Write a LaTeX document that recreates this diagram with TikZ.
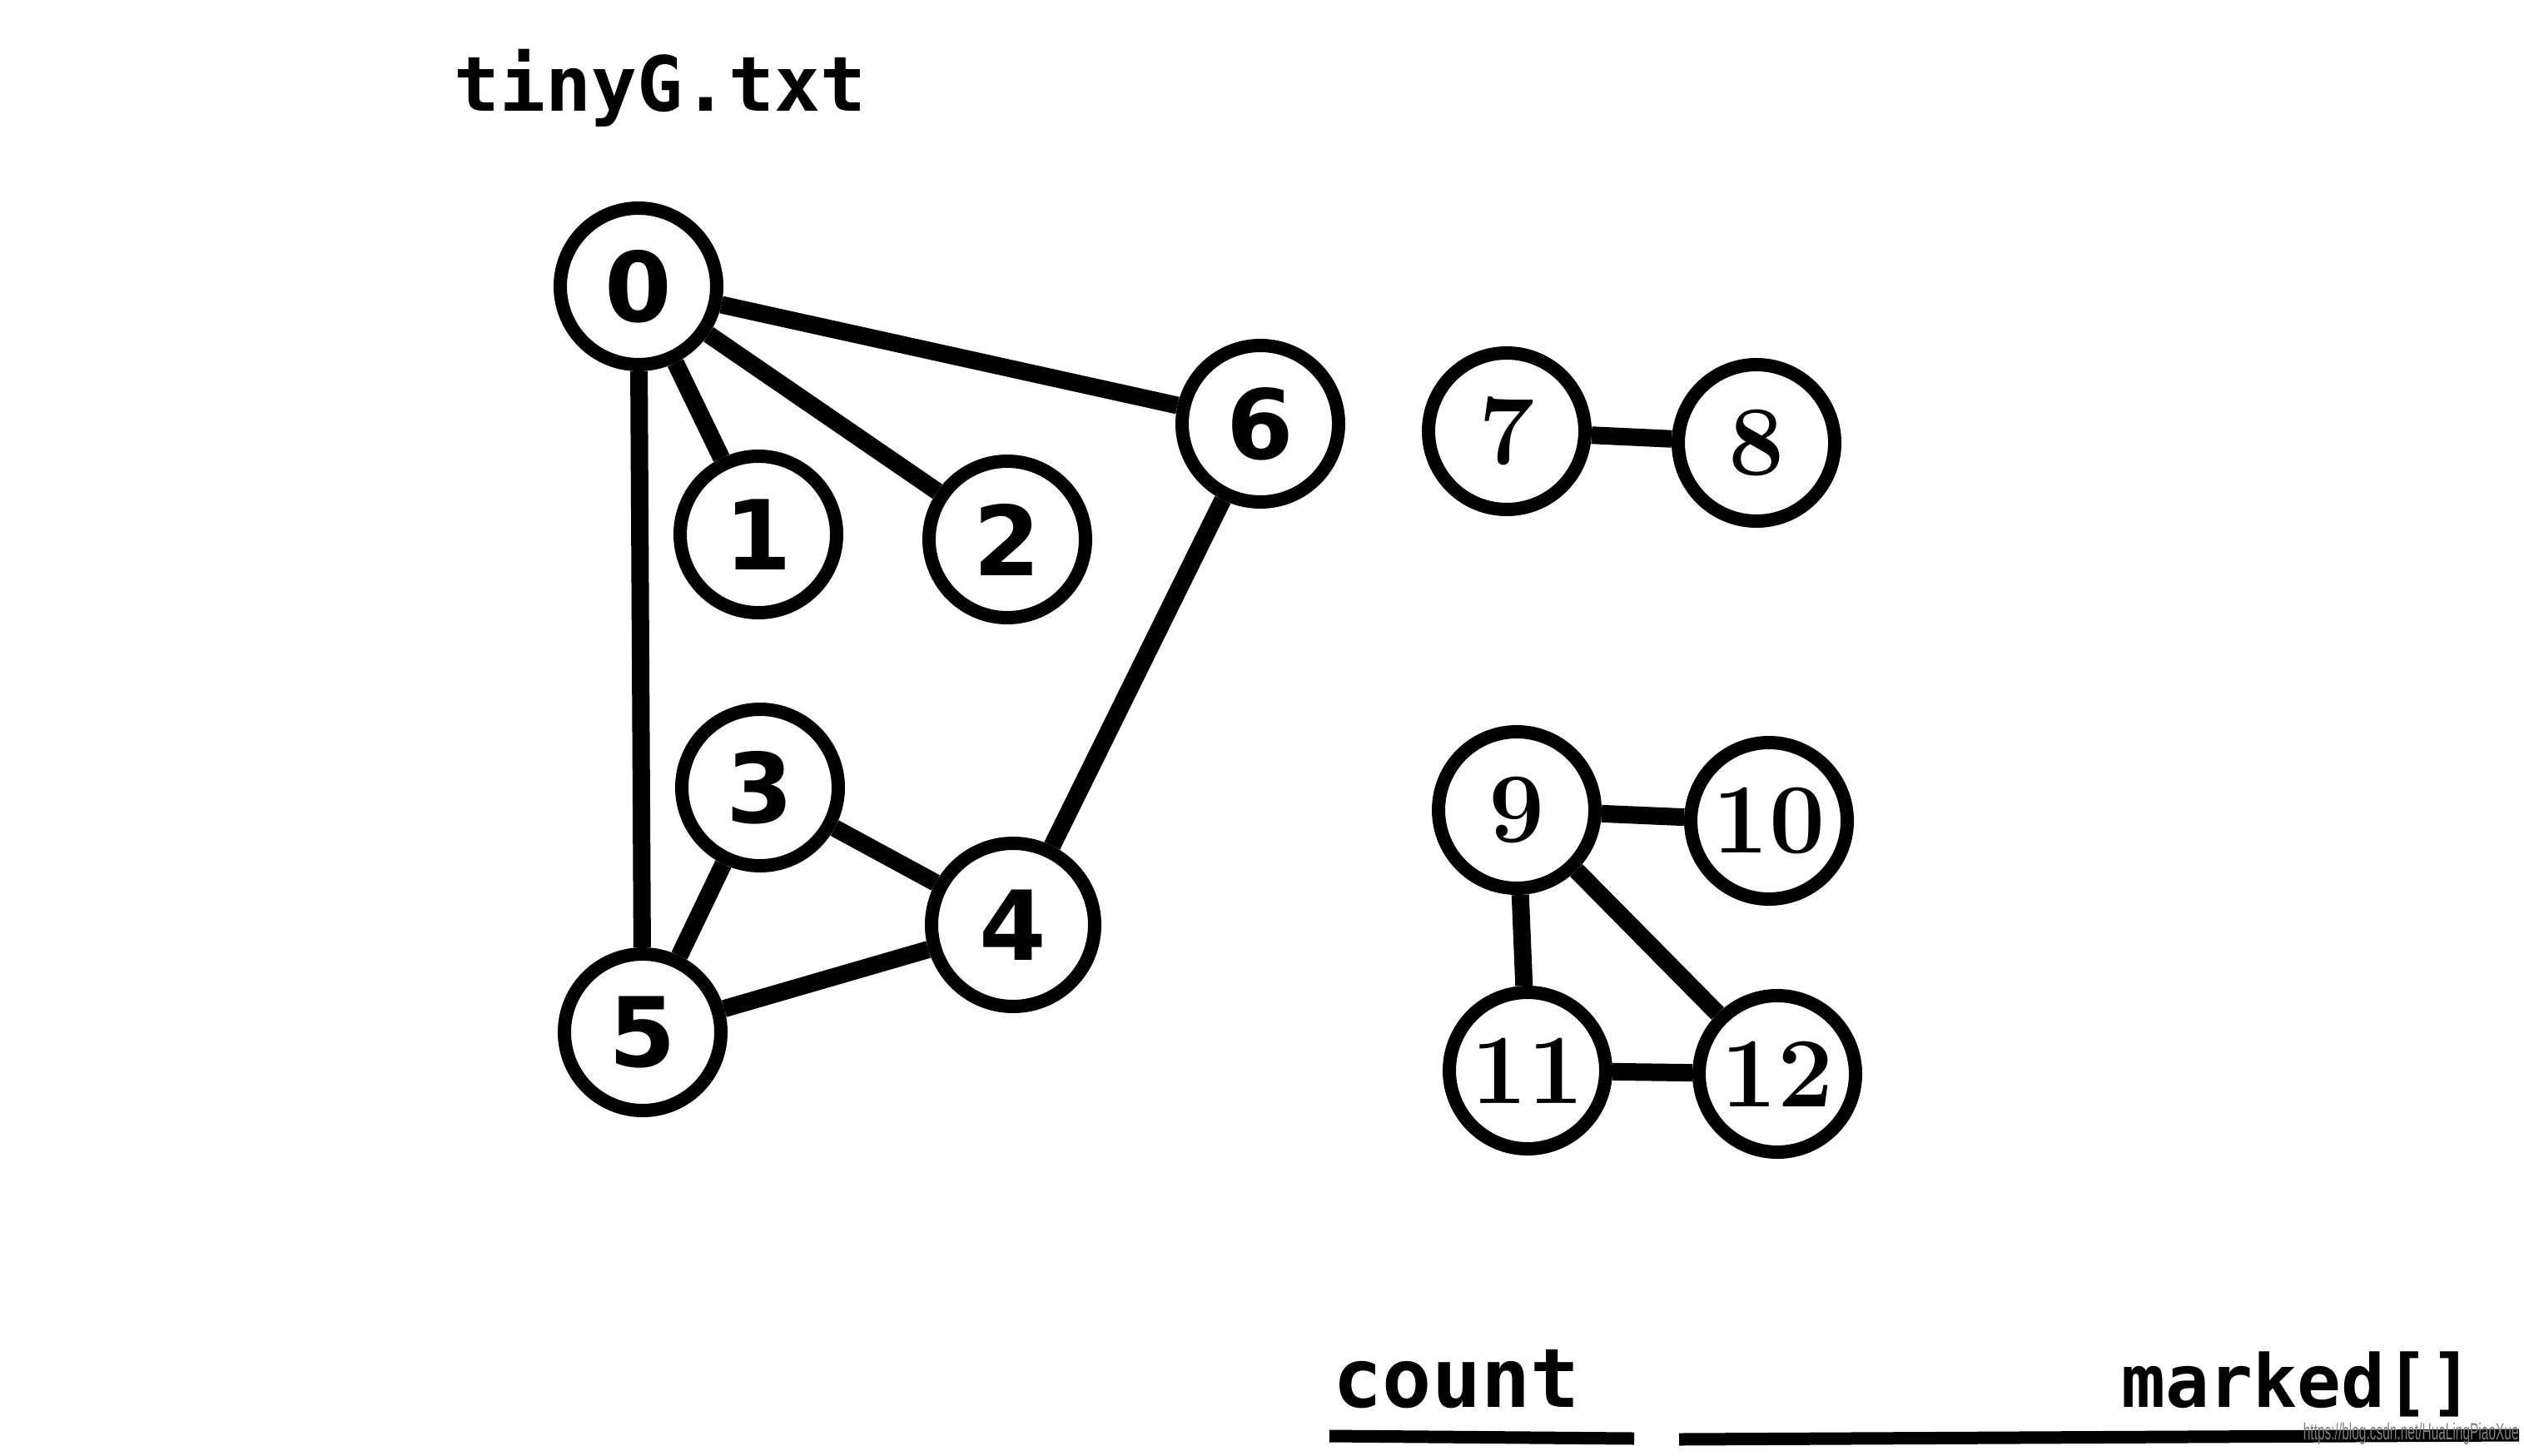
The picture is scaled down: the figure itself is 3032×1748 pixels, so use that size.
\documentclass[tikz,border=0pt]{standalone}
\usepackage{fontspec}
\newfontfamily\monofont{DejaVu Sans Mono}
\newfontfamily\digitfont{DejaVu Sans}
\newfontfamily\markfont{Liberation Sans}
\usetikzlibrary{positioning}

\begin{document}
\begin{tikzpicture}[x=0.1mm,y=-0.1mm,
  vtx/.style={circle,draw,line width=1.6mm,minimum size=18.8mm,inner sep=0pt,
    font=\digitfont\bfseries\fontsize{33}{33}\selectfont},
  vtxs/.style={vtx,font=\bfseries\fontsize{34}{34}\selectfont},
  edge/.style={line width=2.1mm},
  lbl/.style={inner sep=0pt,font=\monofont\bfseries}]
  \useasboundingbox (0,0) rectangle (3032,1748);
  % title
  \node[lbl,anchor=base west,font=\monofont\bfseries\fontsize{26}{26}\selectfont] (title) at (545,134) {tinyG.txt};
  % first component
  \node[vtx] (v0) at (767,344) {0};
  \node[vtx] (v1) at (911,642) {1};
  \node[vtx] (v2) at (1210,648) {2};
  \node[vtx] (v6) at (1514,509) {6};
  \node[vtx] (v3) at (913,946) {3};
  \node[vtx,minimum size=19.6mm] (v4) at (1217,1111) {4};
  \node[vtx] (v5) at (772,1240) {5};
  % other components
  \node[vtxs] (v7) at (1810,518) {7};
  \node[vtxs] (v8) at (2110,532) {8};
  \node[vtxs] (v9) at (1822,973) {9};
  \node[vtxs] (v10) at (2125,986) {10};
  \node[vtxs] (v11) at (1835,1286) {11};
  \node[vtxs] (v12) at (2135,1290) {12};
  \foreach \a/\b in {v0/v1,v0/v2,v0/v6,v0/v5,v6/v4,v3/v4,v3/v5,v5/v4,v7/v8,v9/v10,v9/v11,v9/v12,v11/v12}
    \draw[edge] (\a) -- (\b);
  % bottom labels
  \node[lbl,anchor=base west,font=\monofont\bfseries\fontsize{28}{28}\selectfont] (count) at (1601,1690) {count};
  \node[lbl,anchor=base east,font=\monofont\bfseries\fontsize{25}{25}\selectfont] (marked) at (2972,1690) {marked[]};
  \draw[edge,line width=1.5mm] (1597,1725) -- (1963,1728);
  \draw[edge,line width=1.5mm] (2017,1729) -- (3026,1724);
  \node[inner sep=0pt,anchor=east,text=gray,xscale=0.55,transform shape,
    font=\markfont\fontsize{8}{8}\selectfont] (wm) at (3026,1722) {https://blog.csdn.net/HuaLingPiaoXue};
\end{tikzpicture}
\end{document}
